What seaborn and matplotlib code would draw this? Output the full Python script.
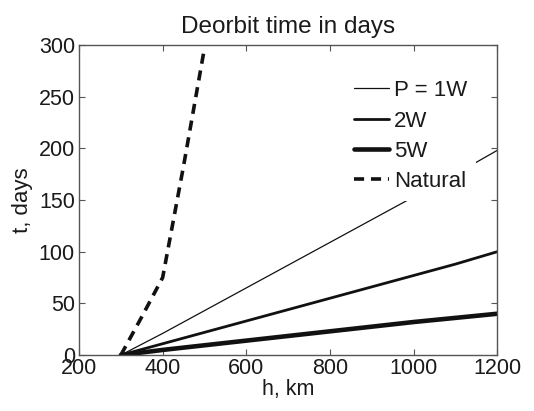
import matplotlib
matplotlib.use("Agg")
import matplotlib.pyplot as plt
import seaborn as sns
import pandas as pd

# Data
h_power = [300, 400, 500, 600, 700, 800, 900, 1000, 1100, 1200]
t_1w = [0, 21, 43, 65, 87, 109, 131, 153, 175, 198]
t_2w = [0, 11, 22, 33, 44, 55, 66, 77, 88, 100]
t_5w = [0, 5, 9.5, 14, 18.5, 23, 27.5, 32, 36, 40]
h_nat = [300, 350, 400, 425, 450, 475, 500]
t_nat = [0, 37, 75, 129, 183, 240, 297]
labels = ["P = 1W", "2W", "5W", "Natural"]

sns.set_style("ticks", {"xtick.direction": "in", "ytick.direction": "in",
                        "axes.edgecolor": "#555555"})
plt.rcParams["font.family"] = ["Liberation Sans", "DejaVu Sans"]
plt.rcParams["xtick.top"] = True
plt.rcParams["ytick.right"] = True

fig = plt.figure(figsize=(5.34, 4.11), dpi=100)
ax = fig.add_axes([0.148, 0.136, 0.783, 0.7545])

df_p = pd.DataFrame({"h": h_power, "t1": t_1w, "t2": t_2w, "t5": t_5w})
df_n = pd.DataFrame({"h": h_nat, "t": t_nat})

sns.lineplot(data=df_p, x="h", y="t1", ax=ax, color="#111111", linewidth=0.9, label=labels[0])
sns.lineplot(data=df_p, x="h", y="t2", ax=ax, color="#111111", linewidth=2.0, label=labels[1])
sns.lineplot(data=df_p, x="h", y="t5", ax=ax, color="#111111", linewidth=3.3, label=labels[2])
sns.lineplot(data=df_n, x="h", y="t", ax=ax, color="#111111", linewidth=2.6,
             linestyle=(0, (2.8, 1.9)), label=labels[3])

ax.set_xlim(200, 1200)
ax.set_ylim(0, 300)
ax.set_xticks([200, 400, 600, 800, 1000, 1200])
ax.set_yticks([0, 50, 100, 150, 200, 250, 300])
ax.tick_params(axis="both", which="both", direction="in", length=4, width=0.8,
               colors="#555555", labelcolor="#1a1a1a", labelsize=15.5,
               top=True, right=True)
ax.tick_params(axis="x", pad=2)
ax.tick_params(axis="y", pad=3)
for s in ax.spines.values():
    s.set_linewidth(1.0)
    s.set_color("#555555")

ax.set_xlabel("h, km", fontsize=15.5, color="#1a1a1a", labelpad=0)
ax.set_ylabel("t, days", fontsize=16, color="#1a1a1a", labelpad=4)
ax.set_title("Deorbit time in days", fontsize=17.5, color="#1a1a1a", pad=9)

leg = ax.legend(loc="upper left", bbox_to_anchor=(0.636, 0.915), fontsize=16,
                frameon=True, framealpha=1.0, facecolor="white", edgecolor="none",
                fancybox=False, borderpad=0.4, handlelength=1.6, handletextpad=0.2,
                labelspacing=0.42, borderaxespad=0)
for txt in leg.get_texts():
    txt.set_color("#1a1a1a")

fig.savefig("out.png", dpi=100)
